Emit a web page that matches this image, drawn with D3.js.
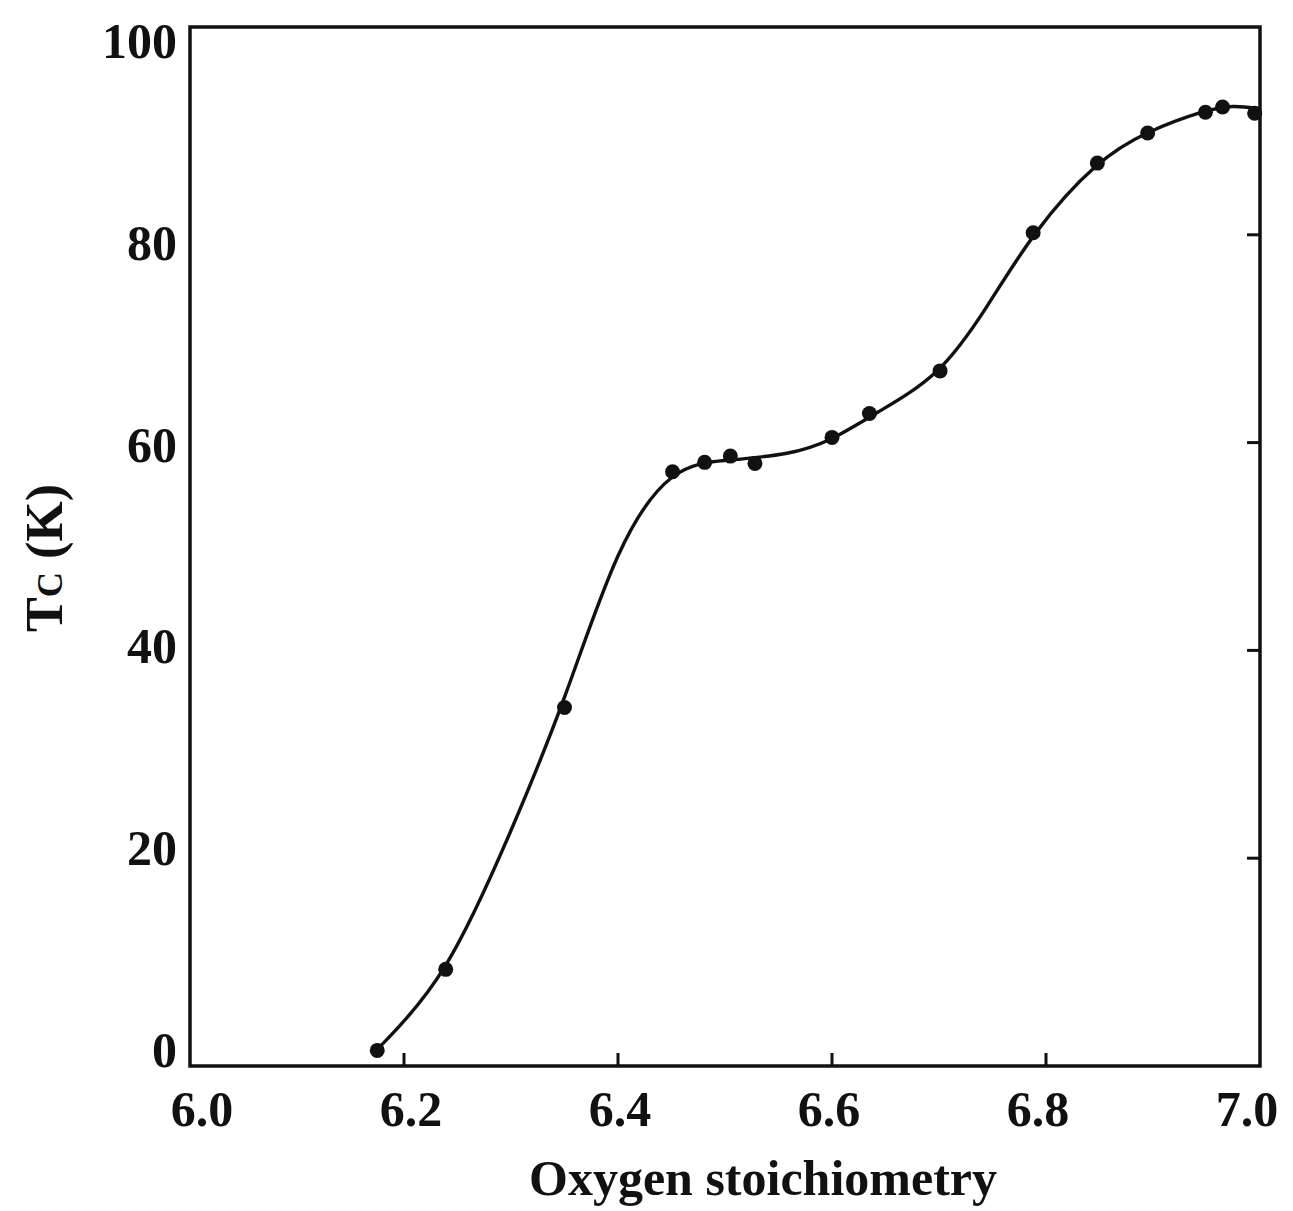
<!DOCTYPE html>
<html>
<head>
<meta charset="utf-8">
<script src="https://cdn.jsdelivr.net/npm/d3@7"></script>
<style>
  html, body { margin: 0; padding: 0; background: #fff; }
  svg { display: block; }
  text { font-family: "Liberation Serif", "DejaVu Serif", serif; font-weight: bold; fill: #111; }
</style>
</head>
<body>
<svg id="chart" width="1293" height="1211"></svg>
<script>
// Measured Tc versus oxygen content
const oxygenX = [6.175, 6.239, 6.350, 6.451, 6.481, 6.505, 6.528, 6.600, 6.635, 6.701, 6.788, 6.848, 6.895, 6.949, 6.965, 6.995];
const tcK     = [1.5,   9.3,   34.5,  57.2,  58.1,  58.7,  58.0,  60.5,  62.8,  66.9,  80.2,  86.9,  89.8,  91.8,  92.3,  91.7];

// Control points of the smooth guide curve
const fitX = [6.175, 6.239, 6.300, 6.350, 6.400, 6.451, 6.500, 6.560, 6.600, 6.640, 6.701, 6.745, 6.788, 6.848, 6.895, 6.949, 6.975, 7.000];
const fitY = [1.6,   8.4,   22.5,  35.0,  50.5,  57.8,  58.3,  58.8,  60.2,  62.8,  66.4,  73.0,  80.3,  87.2,  90.0,  92.0,  92.5,  92.1];

const xTicks = [6.0, 6.2, 6.4, 6.6, 6.8, 7.0];
const yTicks = [0, 20, 40, 60, 80, 100];

const svg = d3.select("#chart");
const frame = { left: 190, right: 1260, top: 27, bottom: 1066 };

const x = d3.scaleLinear().domain([6.0, 7.0]).range([frame.left, frame.right]);
const y = d3.scaleLinear().domain([0, 100]).range([frame.bottom, frame.top]);
// Tick labels sit slightly inside the frame ends
const xLab = d3.scaleLinear().domain([6.0, 7.0]).range([202, 1247]);
const yLab = d3.scaleLinear().domain([0, 100]).range([1050, 41]);

// Inward ticks on the bottom and right edges
const innerX = xTicks.slice(1, -1);
const innerY = yTicks.slice(1, -1);
svg.append("g")
  .selectAll("line").data(innerX).join("line")
  .attr("x1", d => x(d)).attr("x2", d => x(d))
  .attr("y1", frame.bottom).attr("y2", frame.bottom - 13)
  .attr("stroke", "#111").attr("stroke-width", 3);
svg.append("g")
  .selectAll("line").data(innerY).join("line")
  .attr("x1", frame.right).attr("x2", frame.right - 13)
  .attr("y1", d => y(d)).attr("y2", d => y(d))
  .attr("stroke", "#111").attr("stroke-width", 3);

// Frame
svg.append("rect")
  .attr("x", frame.left).attr("y", frame.top)
  .attr("width", frame.right - frame.left).attr("height", frame.bottom - frame.top)
  .attr("fill", "none").attr("stroke", "#111").attr("stroke-width", 3.5);

// Tick labels
svg.append("g")
  .selectAll("text").data(xTicks).join("text")
  .attr("x", d => xLab(d)).attr("y", 1126)
  .attr("text-anchor", "middle").attr("font-size", 50)
  .text(d => d.toFixed(1));
svg.append("g")
  .selectAll("text").data(yTicks).join("text")
  .attr("x", 177).attr("y", d => yLab(d))
  .attr("dy", "0.34em")
  .attr("text-anchor", "end").attr("font-size", 50)
  .text(d => d);

// Axis titles
svg.append("text")
  .attr("x", 763).attr("y", 1195)
  .attr("text-anchor", "middle").attr("font-size", 50)
  .text("Oxygen stoichiometry");

const yt = svg.append("text")
  .attr("transform", "translate(62,558) rotate(-90)")
  .attr("text-anchor", "middle").attr("font-size", 52);
yt.append("tspan").text("T");
yt.append("tspan").attr("font-size", 35).text("C");
yt.append("tspan").text(" (K)");

// Guide curve (B-spline through the control points)
const line = d3.line()
  .x((d, i) => x(fitX[i]))
  .y((d, i) => y(fitY[i]))
  .curve(d3.curveBasis);
svg.append("path")
  .datum(fitX)
  .attr("d", line)
  .attr("fill", "none").attr("stroke", "#111").attr("stroke-width", 3.4);

// Data points
svg.append("g")
  .selectAll("circle").data(oxygenX).join("circle")
  .attr("cx", d => x(d))
  .attr("cy", (d, i) => y(tcK[i]))
  .attr("r", 7.5)
  .attr("fill", "#111");
</script>
</body>
</html>
